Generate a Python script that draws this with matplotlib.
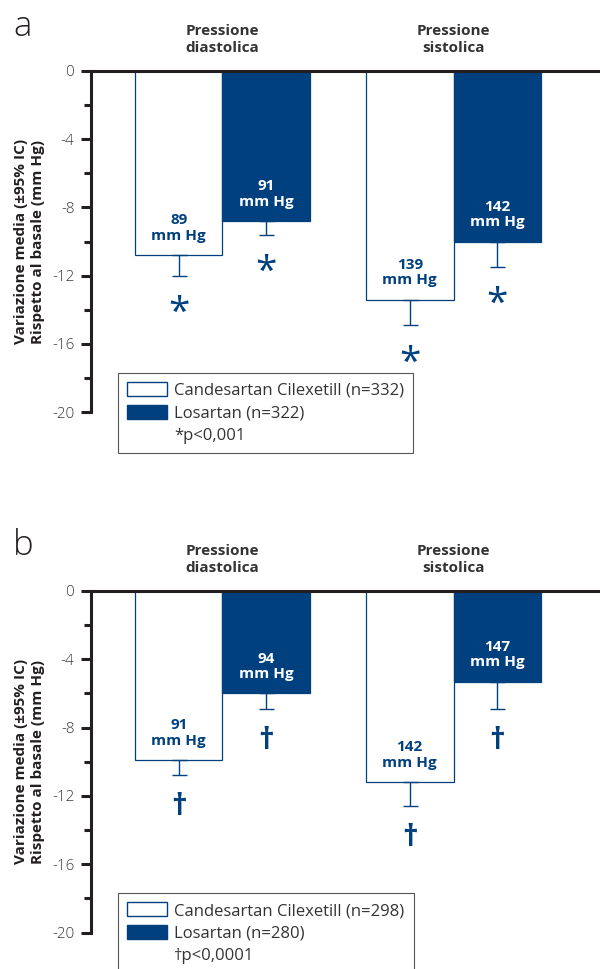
import numpy as np
import matplotlib
matplotlib.use("Agg")
import matplotlib.pyplot as plt
from matplotlib.patches import Patch
from matplotlib.ticker import MultipleLocator

plt.rcParams['font.family'] = ['Open Sans', 'DejaVu Sans']

# Dati (variazione media rispetto al basale, mm Hg)
gruppi = ["Pressione\ndiastolica", "Pressione\nsistolica"]

cand_a = [-10.8, -13.4]
cand_a_ic = [-12.0, -14.9]
los_a = [-8.8, -10.0]
los_a_ic = [-9.6, -11.5]
basale_cand_a = [89, 139]
basale_los_a = [91, 142]

cand_b = [-9.9, -11.2]
cand_b_ic = [-10.8, -12.6]
los_b = [-6.0, -5.3]
los_b_ic = [-6.9, -6.9]
basale_cand_b = [91, 142]
basale_los_b = [94, 147]

yticks = [0, -4, -8, -12, -16, -20]

blu = '#00407f'
scuro = '#231f20'


def pannello(ax, cand, cand_ic, los, los_ic, bas_cand, bas_los,
             n_cand, n_los, segno, nota):
    x = np.arange(len(gruppi))
    w = 0.379
    xc = x - w / 2
    xl = x + w / 2

    ax.bar(xc, cand, w, color='white', edgecolor=blu, linewidth=0.9, zorder=1)
    ax.bar(xl, los, w, color=blu, edgecolor=blu, linewidth=0.9, zorder=1)

    # intervalli di confidenza (solo verso il basso)
    for pos, v, ic in [(xc, cand, cand_ic), (xl, los, los_ic)]:
        v = np.array(v)
        ic = np.array(ic)
        ax.errorbar(pos, v, yerr=[v - ic, np.zeros(len(v))], fmt='none',
                    ecolor=blu, elinewidth=1, capsize=5.4, capthick=1, zorder=2)
        for p, c in zip(pos, ic):
            if segno == '*':
                ax.annotate(segno, (p, c), xytext=(0, -27.5), textcoords='offset points',
                            ha='center', va='center', color=blu, fontsize=28)
            else:
                ax.annotate(segno, (p, c), xytext=(0, -23), textcoords='offset points',
                            ha='center', va='center', color=blu, fontsize=22,
                            fontweight='bold')

    # valori basali dentro le barre
    for p, v, b in zip(xc, cand, bas_cand):
        ax.annotate(f"{b}\nmm Hg", (p, v), xytext=(0, 19.5), textcoords='offset points',
                    ha='center', va='center', color=blu, fontsize=11,
                    fontweight='bold', linespacing=1.15)
    for p, v, b in zip(xl, los, bas_los):
        ax.annotate(f"{b}\nmm Hg", (p, v), xytext=(0, 19.5), textcoords='offset points',
                    ha='center', va='center', color='white', fontsize=11,
                    fontweight='bold', linespacing=1.15)

    for g, t in zip(x, gruppi):
        ax.annotate(t, (g, 0), xytext=(0, 22.5), textcoords='offset points',
                    ha='center', va='center', color='#333333', fontsize=11,
                    fontweight='bold', linespacing=1.3, annotation_clip=False)

    ax.set_xlim(-0.569, 1.634)
    ax.set_ylim(-20, 0)
    ax.set_yticks(yticks)
    ax.set_yticklabels([str(t) for t in yticks])
    ax.yaxis.set_minor_locator(MultipleLocator(2))
    ax.set_xticks([])
    for s in ['right', 'bottom']:
        ax.spines[s].set_visible(False)
    for s in ['left', 'top']:
        ax.spines[s].set_linewidth(2.2)
        ax.spines[s].set_color(scuro)
    ax.tick_params(axis='y', which='major', length=7, width=2.2, color=scuro,
                   labelsize=11, labelcolor='#3a3a3a', pad=5)
    ax.tick_params(axis='y', which='minor', length=5, width=2.2, color=scuro)
    for lab in ax.get_yticklabels():
        lab.set_fontweight('light')

    ax.set_ylabel("Variazione media (±95% IC)\nRispetto al basale (mm Hg)",
                  fontsize=11, fontweight='bold', color=scuro, linespacing=1.25)
    ax.yaxis.set_label_coords(-0.09, 0.5)

    maniglie = [Patch(facecolor='white', edgecolor=blu, linewidth=1),
                Patch(facecolor=blu, edgecolor=blu),
                Patch(facecolor='none', edgecolor='none')]
    etichette = [f"Candesartan Cilexetill (n={n_cand})",
                 f"Losartan (n={n_los})", nota]
    leg = ax.legend(maniglie, etichette, loc='upper left',
                    bbox_to_anchor=(0.0532, 0.115), borderaxespad=0,
                    fontsize=12, frameon=True, fancybox=False, framealpha=1,
                    edgecolor='#555555', handlelength=2.4, handleheight=0.9,
                    handletextpad=0.42, borderpad=0.55, labelspacing=0.35)
    leg.get_frame().set_linewidth(0.8)
    for t in leg.get_texts():
        t.set_color('#333333')


fig = plt.figure(figsize=(6, 9.69), dpi=100)
ax_a = fig.add_axes([0.1517, 0.5745, 0.8483, 0.3525])
ax_b = fig.add_axes([0.1517, 0.0376, 0.8483, 0.3525])

pannello(ax_a, cand_a, cand_a_ic, los_a, los_a_ic, basale_cand_a, basale_los_a,
         332, 322, '*', '*p<0,001')
pannello(ax_b, cand_b, cand_b_ic, los_b, los_b_ic, basale_cand_b, basale_los_b,
         298, 280, '†', '†p<0,0001')

fig.text(13 / 600, 1 - 36 / 969, 'a', fontsize=25, fontweight='light', color=scuro)
fig.text(13 / 600, 1 - 555 / 969, 'b', fontsize=25, fontweight='light', color=scuro)

fig.savefig('out.png', dpi=100)
